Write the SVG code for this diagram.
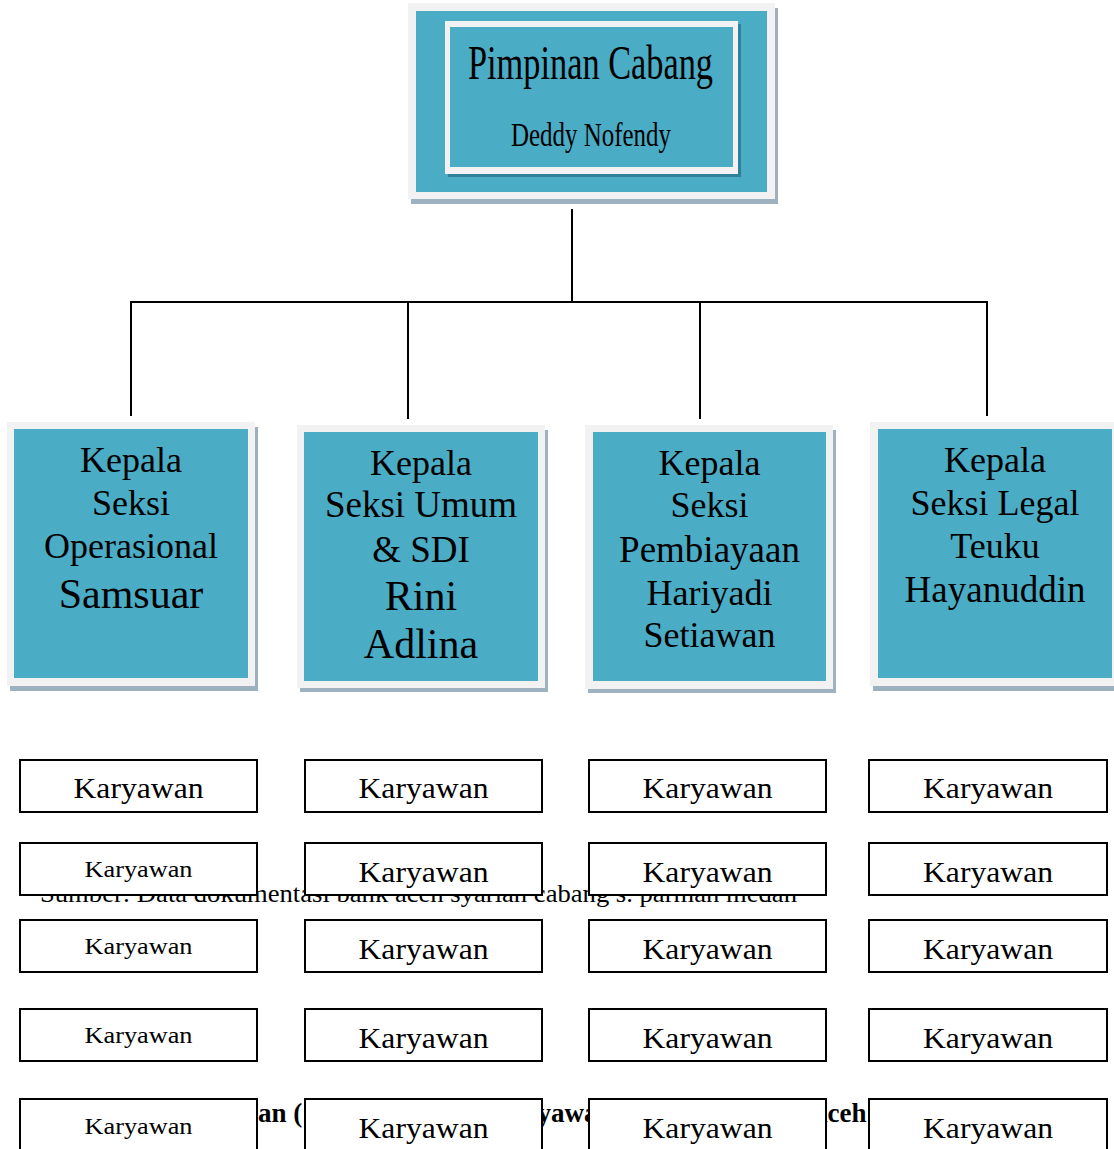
<svg xmlns="http://www.w3.org/2000/svg" width="1114" height="1149" viewBox="0 0 1114 1149">
<style>
.shadow{fill:#9db2be}
.light{fill:#f2f2f2}
.teal{fill:#4bacc6}
.t{font-family:"Liberation Serif","Times New Roman",serif;fill:#000;text-anchor:middle}
.k{font-family:"Liberation Serif","Times New Roman",serif;fill:#000;text-anchor:middle;font-size:29px}
.ks{font-family:"Liberation Serif","Times New Roman",serif;fill:#000;text-anchor:middle;font-size:24px}
.kbox{fill:#fff;stroke:#000;stroke-width:2}
.bg{font-family:"Liberation Serif","Times New Roman",serif;fill:#000}
.conn{stroke:#000;stroke-width:2;fill:none}
</style>
<rect width="1114" height="1149" fill="#fff"/>

<!-- background page text partially hidden -->
<text class="bg" x="40" y="902" font-size="26" textLength="757" lengthAdjust="spacingAndGlyphs">Sumber: Data dokumentasi bank aceh syariah cabang s. parman medan</text>
<text class="bg" x="258" y="1122" font-size="27" font-weight="bold">an (</text>
<text class="bg" x="491" y="1122" font-size="27" font-weight="bold">Karyawan</text>
<text class="bg" x="808" y="1122" font-size="27" font-weight="bold">Aceh</text>

<g id="connectors">
<line class="conn" x1="572" y1="209" x2="572" y2="302"/>
<line class="conn" x1="130" y1="302" x2="988" y2="302"/>
<line class="conn" x1="131" y1="302" x2="131" y2="416"/>
<line class="conn" x1="408" y1="302" x2="408" y2="419"/>
<line class="conn" x1="700" y1="302" x2="700" y2="419"/>
<line class="conn" x1="987" y1="302" x2="987" y2="416"/>
</g>

<g id="pimpinan">
<rect class="shadow" x="411" y="8" width="367" height="196"/>
<rect class="light" x="408" y="3" width="367" height="196"/>
<rect class="teal" x="416" y="11" width="351" height="181"/>
<rect fill="#2f8099" x="448" y="24" width="293" height="153"/>
<rect fill="#f2f2f2" x="445" y="21" width="293" height="153"/>
<rect class="teal" x="450" y="27" width="283" height="140"/>
<text class="bg" x="468" y="79" font-size="48" textLength="245" lengthAdjust="spacingAndGlyphs">Pimpinan Cabang</text>
<text class="bg" x="511" y="146" font-size="34" textLength="160" lengthAdjust="spacingAndGlyphs">Deddy Nofendy</text>
</g>

<g id="ks-operasional">
<rect class="shadow" x="10" y="427" width="248" height="264"/>
<rect class="light" x="7" y="422" width="248" height="264"/>
<rect class="teal" x="14" y="429" width="234" height="249"/>
<text class="t" x="131" y="472" font-size="36">Kepala</text>
<text class="t" x="131" y="515" font-size="36">Seksi</text>
<text class="t" x="131" y="558" font-size="36">Operasional</text>
<text class="t" x="131" y="608" font-size="42">Samsuar</text>
</g>

<g id="ks-umum">
<rect class="shadow" x="300" y="430" width="248" height="262"/>
<rect class="light" x="297" y="425" width="248" height="263"/>
<rect class="teal" x="304" y="432" width="234" height="249"/>
<text class="t" x="421" y="475" font-size="36">Kepala</text>
<text class="t" x="421" y="517" font-size="37">Seksi Umum</text>
<text class="t" x="421" y="562" font-size="37">&amp; SDI</text>
<text class="t" x="421" y="610" font-size="42">Rini</text>
<text class="t" x="421" y="658" font-size="42">Adlina</text>
</g>

<g id="ks-pembiayaan">
<rect class="shadow" x="588" y="430" width="248" height="263"/>
<rect class="light" x="585" y="425" width="248" height="264"/>
<rect class="teal" x="593" y="432" width="233" height="249"/>
<text class="t" x="709.5" y="475" font-size="36">Kepala</text>
<text class="t" x="709.5" y="517" font-size="36">Seksi</text>
<text class="t" x="709.5" y="562" font-size="37">Pembiayaan</text>
<text class="t" x="709.5" y="605" font-size="36">Hariyadi</text>
<text class="t" x="709.5" y="647" font-size="36">Setiawan</text>
</g>

<g id="ks-legal">
<rect class="shadow" x="873" y="427" width="248" height="264"/>
<rect class="light" x="870" y="422" width="248" height="264"/>
<rect class="teal" x="878" y="429" width="234" height="249"/>
<text class="t" x="995" y="472" font-size="36">Kepala</text>
<text class="t" x="995" y="515" font-size="36">Seksi Legal</text>
<text class="t" x="995" y="558" font-size="36">Teuku</text>
<text class="t" x="995" y="602" font-size="37">Hayanuddin</text>
</g>

<!-- Karyawan column 1 -->
<g id="k1-1"><rect class="kbox" x="20" y="760" width="237" height="52"/><text class="k" x="138.5" y="798" textLength="130" lengthAdjust="spacingAndGlyphs">Karyawan</text></g>
<g id="k1-2"><rect class="kbox" x="20" y="843" width="237" height="52"/><text class="ks" x="138.5" y="877" textLength="108" lengthAdjust="spacingAndGlyphs">Karyawan</text></g>
<g id="k1-3"><rect class="kbox" x="20" y="920" width="237" height="52"/><text class="ks" x="138.5" y="954" textLength="108" lengthAdjust="spacingAndGlyphs">Karyawan</text></g>
<g id="k1-4"><rect class="kbox" x="20" y="1009" width="237" height="52"/><text class="ks" x="138.5" y="1043" textLength="108" lengthAdjust="spacingAndGlyphs">Karyawan</text></g>
<g id="k1-5"><rect class="kbox" x="20" y="1099" width="237" height="52"/><text class="ks" x="138.5" y="1134" textLength="108" lengthAdjust="spacingAndGlyphs">Karyawan</text></g>

<!-- Karyawan column 2 -->
<g id="k2-1"><rect class="kbox" x="305" y="760" width="237" height="52"/><text class="k" x="423.5" y="798" textLength="130" lengthAdjust="spacingAndGlyphs">Karyawan</text></g>
<g id="k2-2"><rect class="kbox" x="305" y="843" width="237" height="52"/><text class="k" x="423.5" y="882" textLength="130" lengthAdjust="spacingAndGlyphs">Karyawan</text></g>
<g id="k2-3"><rect class="kbox" x="305" y="920" width="237" height="52"/><text class="k" x="423.5" y="959" textLength="130" lengthAdjust="spacingAndGlyphs">Karyawan</text></g>
<g id="k2-4"><rect class="kbox" x="305" y="1009" width="237" height="52"/><text class="k" x="423.5" y="1048" textLength="130" lengthAdjust="spacingAndGlyphs">Karyawan</text></g>
<g id="k2-5"><rect class="kbox" x="305" y="1099" width="237" height="52"/><text class="k" x="423.5" y="1138" textLength="130" lengthAdjust="spacingAndGlyphs">Karyawan</text></g>

<!-- Karyawan column 3 -->
<g id="k3-1"><rect class="kbox" x="589" y="760" width="237" height="52"/><text class="k" x="707.5" y="798" textLength="130" lengthAdjust="spacingAndGlyphs">Karyawan</text></g>
<g id="k3-2"><rect class="kbox" x="589" y="843" width="237" height="52"/><text class="k" x="707.5" y="882" textLength="130" lengthAdjust="spacingAndGlyphs">Karyawan</text></g>
<g id="k3-3"><rect class="kbox" x="589" y="920" width="237" height="52"/><text class="k" x="707.5" y="959" textLength="130" lengthAdjust="spacingAndGlyphs">Karyawan</text></g>
<g id="k3-4"><rect class="kbox" x="589" y="1009" width="237" height="52"/><text class="k" x="707.5" y="1048" textLength="130" lengthAdjust="spacingAndGlyphs">Karyawan</text></g>
<g id="k3-5"><rect class="kbox" x="589" y="1099" width="237" height="52"/><text class="k" x="707.5" y="1138" textLength="130" lengthAdjust="spacingAndGlyphs">Karyawan</text></g>

<!-- Karyawan column 4 -->
<g id="k4-1"><rect class="kbox" x="869" y="760" width="238" height="52"/><text class="k" x="988" y="798" textLength="130" lengthAdjust="spacingAndGlyphs">Karyawan</text></g>
<g id="k4-2"><rect class="kbox" x="869" y="843" width="238" height="52"/><text class="k" x="988" y="882" textLength="130" lengthAdjust="spacingAndGlyphs">Karyawan</text></g>
<g id="k4-3"><rect class="kbox" x="869" y="920" width="238" height="52"/><text class="k" x="988" y="959" textLength="130" lengthAdjust="spacingAndGlyphs">Karyawan</text></g>
<g id="k4-4"><rect class="kbox" x="869" y="1009" width="238" height="52"/><text class="k" x="988" y="1048" textLength="130" lengthAdjust="spacingAndGlyphs">Karyawan</text></g>
<g id="k4-5"><rect class="kbox" x="869" y="1099" width="238" height="52"/><text class="k" x="988" y="1138" textLength="130" lengthAdjust="spacingAndGlyphs">Karyawan</text></g>
</svg>
